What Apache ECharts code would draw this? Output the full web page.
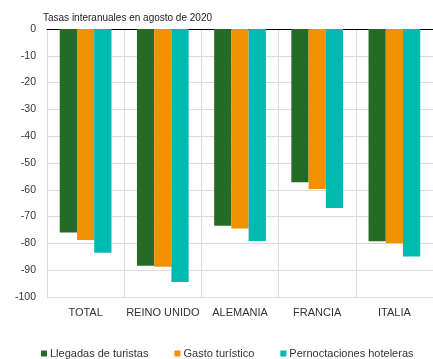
<!DOCTYPE html>
<html>
<head>
<meta charset="utf-8">
<script src="https://cdn.jsdelivr.net/npm/echarts@6/dist/echarts.min.js"></script>
<style>
  html, body { margin: 0; padding: 0; background: #fff; }
  #chart { width: 433px; height: 359px; }
</style>
</head>
<body>
<div id="chart"></div>
<script>
// Year-on-year tourism rates, August 2020
const categories = ['TOTAL', 'REINO UNIDO', 'ALEMANIA', 'FRANCIA', 'ITALIA'];
const llegadas = [-75.9, -88.3, -73.4, -57.2, -79.2];
const gasto = [-78.7, -88.7, -74.4, -59.7, -79.9];
const pernoctaciones = [-83.5, -94.4, -79.1, -66.8, -84.9];
const yTicks = { min: -100, max: 0, interval: 10 };

const FONT = '"Liberation Sans", Arial, sans-serif';
const chart = echarts.init(document.getElementById('chart'), null, { renderer: 'canvas' });

function barSeries(name, data, color) {
  return {
    name: name,
    type: 'bar',
    data: data,
    barGap: '0%',
    barCategoryGap: '33%',
    itemStyle: { color: color },
    emphasis: { disabled: true }
  };
}

chart.setOption({
  animation: false,
  title: {
    text: 'Tasas interanuales en agosto de 2020',
    left: 38,
    top: 8,
    textStyle: { fontFamily: FONT, fontSize: 10, fontWeight: 'normal', color: '#222' }
  },
  grid: { left: 47, top: 29, right: -7.5, bottom: 62 },
  legend: {
    left: 36,
    top: 343,
    itemWidth: 6,
    itemHeight: 6,
    itemGap: 26,
    icon: 'rect',
    textStyle: { fontFamily: FONT, fontSize: 11, color: '#333', padding: [0, 0, 0, -2] },
    data: ['Llegadas de turistas', 'Gasto turístico', 'Pernoctaciones hoteleras']
  },
  xAxis: [
    {
      type: 'category',
      data: categories,
      position: 'bottom',
      axisLine: { show: false, onZero: false },
      axisTick: { show: false },
      axisLabel: { interval: 0, fontFamily: FONT, fontSize: 11, color: '#333', margin: 10 },
      splitLine: { show: true, interval: 0, lineStyle: { color: '#dcdcdc', width: 1 } }
    },
    {
      type: 'category',
      data: categories,
      position: 'top',
      axisLine: { show: true, onZero: false, lineStyle: { color: '#000', width: 1 } },
      axisTick: { show: false },
      axisLabel: { show: false },
      splitLine: { show: false }
    }
  ],
  yAxis: {
    type: 'value',
    min: yTicks.min,
    max: yTicks.max,
    interval: yTicks.interval,
    axisLine: { show: true, lineStyle: { color: '#dcdcdc' } },
    axisTick: { show: false },
    axisLabel: { fontFamily: FONT, fontSize: 10.5, color: '#333', margin: 11 },
    splitLine: { show: true, lineStyle: { color: '#dcdcdc', width: 1 } }
  },
  series: [
    barSeries('Llegadas de turistas', llegadas, '#256b27'),
    barSeries('Gasto turístico', gasto, '#f29100'),
    barSeries('Pernoctaciones hoteleras', pernoctaciones, '#00b9b1')
  ]
});
</script>
</body>
</html>
